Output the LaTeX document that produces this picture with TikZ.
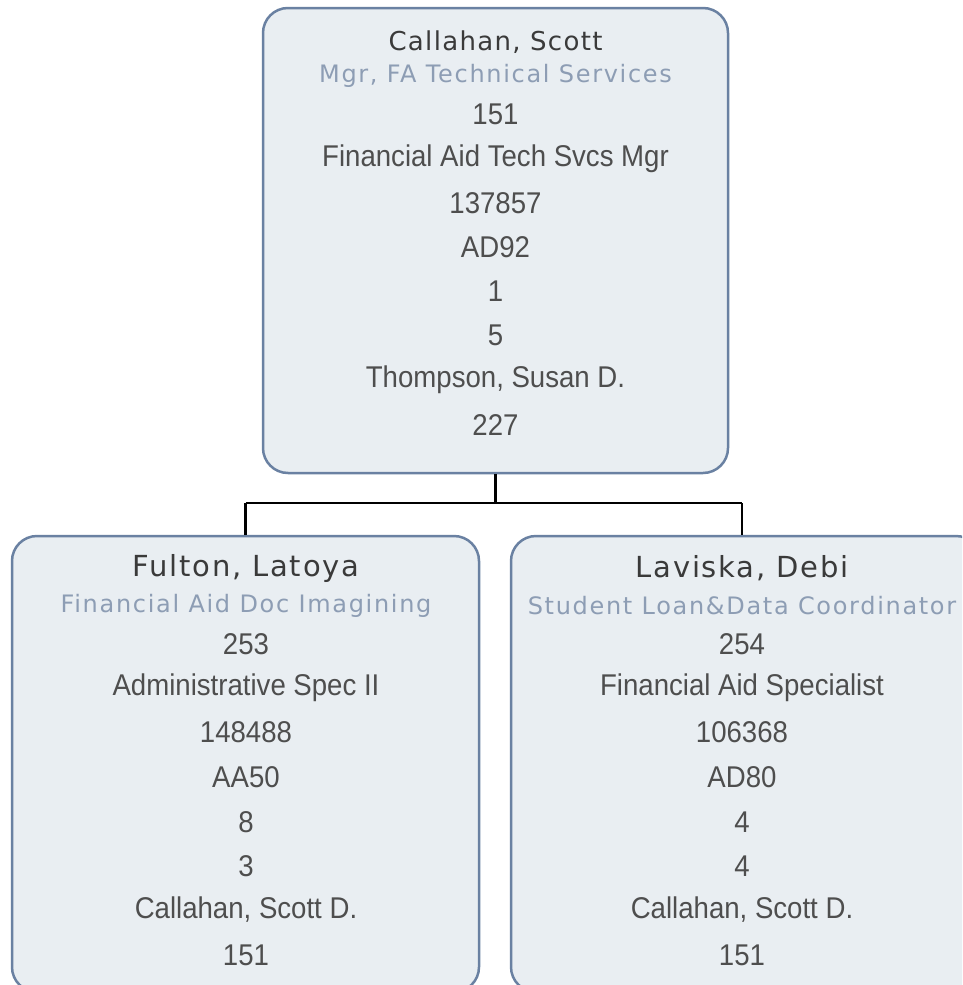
\documentclass[tikz,border=0pt]{standalone}
\usepackage{fontspec}
\newfontfamily\headfont[LetterSpace=5]{DejaVu Sans}
\newfontfamily\headfontb[LetterSpace=6]{DejaVu Sans}
\newfontfamily\subfont[LetterSpace=7]{DejaVu Sans}
\newfontfamily\bodyfont[FakeStretch=0.92]{Liberation Sans}
\definecolor{boxfill}{HTML}{E9EEF2}
\definecolor{boxline}{HTML}{6A81A2}
\definecolor{subcol}{HTML}{8D9DB4}
\definecolor{txtcol}{HTML}{3A3A3A}
\begin{document}
\begin{tikzpicture}[x=1pt,y=1pt,
  orgbox/.style={draw=boxline, line width=2.5pt, fill=boxfill, rounded corners=25pt, inner sep=0pt},
  namet/.style={font=\headfont\fontsize{26}{26}\selectfont, text=txtcol, inner sep=0pt},
  nameb/.style={font=\headfontb\fontsize{29}{29}\selectfont, text=txtcol, inner sep=0pt},
  subt/.style={font=\subfont\fontsize{24}{24}\selectfont, text=subcol, inner sep=0pt},
  bodyt/.style={font=\bodyfont\fontsize{30}{30}\selectfont, text=txtcol!90!white, inner sep=0pt},
  conn/.style={draw=black, line width=2.6pt}]
\useasboundingbox (0,0) rectangle (962,-985);
\clip (0,0) rectangle (962,-985);
% boxes
\node[orgbox, minimum width=465pt, minimum height=465pt] (top) at (495.5,-240.5) {};
\node[orgbox, minimum width=467pt, minimum height=456pt] (left) at (245.5,-764) {};
\node[orgbox, minimum width=470pt, minimum height=456pt] (right) at (746,-764) {};
% connectors
\coordinate (mid) at (495.5,-503);
\coordinate (lc) at (245.5,-503);
\coordinate (rc) at (742,-503);
\draw[conn] (top.south) -- (mid);
\draw[conn] (lc) -- (rc);
\draw[conn] (lc) -- (lc |- left.north);
\draw[conn] (rc) -- (rc |- right.north);
% top text
\node[namet] (t0) at (495.5,-42) {Callahan, Scott};
\node[subt] (t1) at (495.5,-76) {Mgr, FA Technical Services};
\node[bodyt] (t2) at (495.5,-114) {151};
\node[bodyt] (t3) at (495.5,-159) {Financial Aid Tech Svcs Mgr};
\node[bodyt] (t4) at (495.5,-203) {137857};
\node[bodyt] (t5) at (495.5,-247) {AD92};
\node[bodyt] (t6) at (495.5,-291) {1};
\node[bodyt] (t7) at (495.5,-335) {5};
\node[bodyt] (t8) at (495.5,-380) {Thompson, Susan D.};
\node[bodyt] (t9) at (495.5,-425) {227};
% left text
\node[nameb] (l0) at (246,-568) {Fulton, Latoya};
\node[subt] (l1) at (246,-606) {Financial Aid Doc Imagining};
\node[bodyt] (l2) at (246,-644) {253};
\node[bodyt] (l3) at (246,-688) {Administrative Spec II};
\node[bodyt] (l4) at (246,-732) {148488};
\node[bodyt] (l5) at (246,-777) {AA50};
\node[bodyt] (l6) at (246,-822) {8};
\node[bodyt] (l7) at (246,-866) {3};
\node[bodyt] (l8) at (246,-910) {Callahan, Scott D.};
\node[bodyt] (l9) at (246,-955) {151};
% right text
\node[nameb] (r0) at (742,-568) {Laviska, Debi};
\node[subt] (r1) at (742,-606) {Student Loan\&Data Coordinator};
\node[bodyt] (r2) at (742,-644) {254};
\node[bodyt] (r3) at (742,-688) {Financial Aid Specialist};
\node[bodyt] (r4) at (742,-732) {106368};
\node[bodyt] (r5) at (742,-777) {AD80};
\node[bodyt] (r6) at (742,-822) {4};
\node[bodyt] (r7) at (742,-866) {4};
\node[bodyt] (r8) at (742,-910) {Callahan, Scott D.};
\node[bodyt] (r9) at (742,-955) {151};
\end{tikzpicture}
\end{document}
